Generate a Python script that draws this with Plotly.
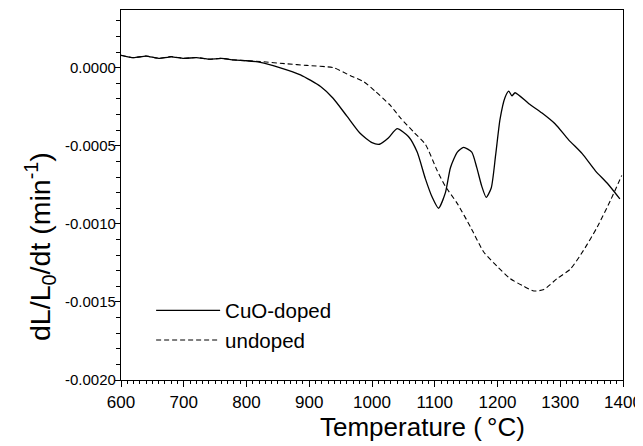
import plotly.graph_objects as go

# CuO-doped (solid)
T_cuo = [600, 620, 640, 660, 680, 700, 720, 740, 760, 780, 800, 822, 854, 886, 918, 938, 960, 981,
         1000, 1012, 1026, 1040, 1058, 1072, 1085, 1096, 1106, 1117, 1125, 1136, 1146, 1159, 1167,
         1175, 1182, 1190, 1197, 1204, 1212, 1218, 1223, 1228, 1250, 1271, 1292, 1313, 1335, 1356,
         1375, 1395]
v_cuo = [8.0e-5, 6.5e-5, 7.5e-5, 6.0e-5, 7.0e-5, 6.0e-5, 6.5e-5, 5.5e-5, 6.0e-5, 5.0e-5, 4.5e-5, 3.5e-5,
         0.0, -4.5e-5, -1.2e-4, -1.95e-4, -3.1e-4, -4.2e-4,
         -4.8e-4, -4.9e-4, -4.5e-4, -3.9e-4, -4.4e-4, -5.4e-4, -7.1e-4, -8.3e-4, -9.0e-4, -8.0e-4,
         -6.4e-4, -5.4e-4, -5.1e-4, -5.4e-4, -6.4e-4, -7.6e-4, -8.3e-4, -7.7e-4, -5.6e-4, -3.3e-4,
         -1.9e-4, -1.5e-4, -1.8e-4, -1.6e-4, -2.3e-4, -2.9e-4, -3.6e-4, -4.6e-4, -5.5e-4, -6.6e-4,
         -7.4e-4, -8.4e-4]

# undoped (dashed)
T_und = [600, 620, 640, 660, 680, 700, 720, 740, 760, 780, 800, 822, 865, 896, 939, 965, 987, 1005,
         1029, 1045, 1066, 1085, 1104, 1117, 1136, 1157, 1178, 1199, 1220, 1242, 1258, 1274, 1295,
         1316, 1337, 1359, 1380, 1398]
v_und = [8.0e-5, 6.5e-5, 7.5e-5, 6.0e-5, 7.2e-5, 6.0e-5, 6.6e-5, 5.5e-5, 6.0e-5, 5.0e-5, 4.5e-5, 4.0e-5,
         2.5e-5, 1.5e-5, 0.0, -5.0e-5, -9.0e-5, -1.5e-4,
         -2.4e-4, -3.2e-4, -4.1e-4, -4.9e-4, -6.6e-4, -7.6e-4, -8.7e-4, -1.02e-3, -1.18e-3, -1.27e-3,
         -1.35e-3, -1.40e-3, -1.43e-3, -1.42e-3, -1.35e-3, -1.29e-3, -1.17e-3, -1.02e-3, -8.5e-4, -6.9e-4]

x_ticks = [600, 700, 800, 900, 1000, 1100, 1200, 1300, 1400]
y_ticks = [0.0, -0.0005, -0.0010, -0.0015, -0.0020]
y_tick_labels = ["0.0000", "-0.0005", "-0.0010", "-0.0015", "-0.0020"]

x_title = "Temperature (\u2009°C)"
y_title = "dL/L<sub>0</sub>/dt (min<sup>-1</sup>)"

FONT = "Liberation Sans, Arial, sans-serif"

fig = go.Figure()
fig.add_trace(go.Scatter(x=T_cuo, y=v_cuo, mode="lines", name="CuO-doped",
                         line=dict(color="black", width=1.3, shape="spline", smoothing=0.6)))
fig.add_trace(go.Scatter(x=T_und, y=v_und, mode="lines", name="undoped",
                         line=dict(color="black", width=1.1, dash="5px,3px", shape="spline", smoothing=0.6)))

fig.update_layout(
    width=643, height=446,
    margin=dict(l=113, r=28, t=2, b=74),
    paper_bgcolor="white", plot_bgcolor="white",
    font=dict(family=FONT, color="black", size=14),
    showlegend=True,
    legend=dict(x=0.06, y=0.242, xanchor="left", yanchor="top",
                bgcolor="rgba(0,0,0,0)", font=dict(size=20.5, family=FONT),
                itemwidth=64, tracegroupgap=0),
    annotations=[
        dict(text=x_title, xref="paper", yref="paper", x=0.60, y=-0.127,
             xanchor="center", yanchor="middle", showarrow=False,
             font=dict(size=26, family=FONT, color="black")),
        dict(text=y_title, xref="paper", yref="paper", x=-0.161, y=0.36,
             xanchor="center", yanchor="middle", showarrow=False, textangle=-90,
             font=dict(size=28.5, family=FONT, color="black")),
    ],
)
fig.update_xaxes(
    range=[600, 1400], tickvals=x_ticks, ticktext=[str(t) for t in x_ticks],
    showline=True, linecolor="black", linewidth=1.3, mirror=True,
    ticks="outside", ticklen=6, tickcolor="black", tickwidth=1,
    minor=dict(dtick=10, ticks="outside", ticklen=3, tickcolor="black", tickwidth=1),
    showgrid=False, zeroline=False,
    tickfont=dict(size=17, family=FONT),
)
fig.update_yaxes(
    range=[-0.002, 0.00037], tickvals=y_ticks, ticktext=y_tick_labels,
    showline=True, linecolor="black", linewidth=1.3, mirror=True,
    ticks="outside", ticklen=5, tickcolor="black", tickwidth=1,
    minor=dict(dtick=0.0001, tick0=0, ticks="outside", ticklen=4, tickcolor="black", tickwidth=1),
    showgrid=False, zeroline=False, ticklabelstandoff=-4,
    tickfont=dict(size=15, family=FONT),
)

fig.write_html("out.html")
